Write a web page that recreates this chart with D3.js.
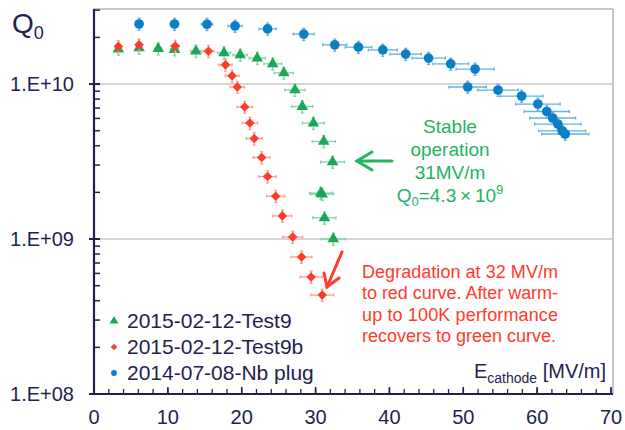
<html>
<head>
  <script src="https://d3js.org/d3.v7.min.js"></script>
  <style>
    body { margin: 0; background: #fff; }
    text { font-family: "Liberation Sans", Arial, sans-serif; }
  </style>
</head>
<body>
  <svg id="chart" width="625" height="430"></svg>
  <script>

    // E_cathode [MV/m] and Q0
    const greenE = [3.3, 6.1, 8.7, 10.9, 13.8, 17.6, 19.8, 22.1, 24.2, 25.7, 27.2, 28.2, 29.7, 31.1, 32.3, 30.7, 30.9, 31.2, 32.4];
    const greenQ = [1.68e10, 1.71e10, 1.69e10, 1.67e10, 1.63e10, 1.59e10, 1.54e10, 1.47e10, 1.35e10, 1.18e10, 9.15e9, 7.16e9, 5.6e9, 4.26e9, 3.14e9, 1.98e9, 1.95e9, 1.37e9, 1.0e9];

    const redE = [3.3, 6.1, 11.0, 15.5, 17.8, 18.7, 19.4, 20.4, 21.1, 21.7, 22.7, 23.5, 24.6, 25.5, 26.9, 28.1, 29.4, 30.9];
    const redQ = [1.75e10, 1.79e10, 1.76e10, 1.63e10, 1.33e10, 1.13e10, 9.57e9, 7.11e9, 5.6e9, 4.45e9, 3.36e9, 2.53e9, 1.89e9, 1.41e9, 1.03e9, 7.66e8, 5.69e8, 4.35e8];

    const blueE = [6.1, 10.9, 15.3, 19.1, 23.5, 28.4, 32.6, 35.8, 39.1, 42.2, 45.3, 48.3, 51.6, 50.6, 54.7, 57.9, 60.1, 61.3, 62.1, 62.8, 63.4, 63.8];
    const blueQ = [2.44e10, 2.44e10, 2.43e10, 2.37e10, 2.27e10, 2.1e10, 1.79e10, 1.73e10, 1.66e10, 1.56e10, 1.47e10, 1.35e10, 1.25e10, 9.57e9, 9.15e9, 8.37e9, 7.43e9, 6.65e9, 6.04e9, 5.52e9, 4.98e9, 4.76e9];

    const seriesNames = ["2015-02-12-Test9", "2015-02-12-Test9b", "2014-07-08-Nb plug"];
    const xTicks = [0, 10, 20, 30, 40, 50, 60, 70];
    const yTicks = [1e8, 1e9, 1e10];
    const yTickLabels = ["1.E+08", "1.E+09", "1.E+10"];

    // relative error bars
    const xErr = 0.05, yErr = 0.09;

    const ink = "#231f4e";
    const green = "#19a85a", red = "#ff3b2b", blue = "#0a7fc6";

    const svg = d3.select("#chart");
    const pLeft = 94, pRight = 611, pTop = 9, pBottom = 394;

    const x = d3.scaleLinear().domain([0, 70]).range([pLeft, pRight]);
    const y = d3.scaleLog().domain([1e8, 3.05e10]).range([pBottom, pTop]);

    // grid lines and frame
    svg.selectAll(".grid").data([1e9, 1e10])
      .join("line")
      .attr("x1", pLeft).attr("x2", pRight + 2)
      .attr("y1", d => y(d)).attr("y2", d => y(d))
      .attr("stroke", "#d6d6d6").attr("stroke-width", 2);

    svg.append("line").attr("x1", pLeft).attr("x2", pRight + 2).attr("y1", pTop).attr("y2", pTop)
      .attr("stroke", "#b4b4bc").attr("stroke-width", 1.5);
    svg.append("line").attr("x1", pRight + 2).attr("x2", pRight + 2).attr("y1", pTop).attr("y2", pBottom)
      .attr("stroke", "#b4b4bc").attr("stroke-width", 1.5);

    // y axis with minor ticks inside
    const yMinor = [];
    for (let e = 8; e <= 10; e++) {
      for (let m = 1; m <= 9; m++) {
        const v = m * Math.pow(10, e);
        if (v <= 3.05e10) yMinor.push(v);
      }
    }
    const yAxis = svg.append("g").attr("transform", "translate(" + pLeft + ",0)");
    yAxis.selectAll(".ymin").data(yMinor)
      .join("line")
      .attr("x1", 0).attr("x2", 6)
      .attr("y1", d => y(d)).attr("y2", d => y(d))
      .attr("stroke", ink).attr("stroke-width", 1.5);
    yAxis.selectAll(".ymaj").data(yTicks)
      .join("line")
      .attr("x1", -5).attr("x2", 6)
      .attr("y1", d => y(d)).attr("y2", d => y(d))
      .attr("stroke", ink).attr("stroke-width", 2);
    yAxis.append("line").attr("y1", pTop).attr("y2", pBottom + 1)
      .attr("stroke", ink).attr("stroke-width", 2.2);
    yAxis.selectAll(".ylab").data(yTicks)
      .join("text")
      .attr("x", -20).attr("y", d => y(d) + 7)
      .attr("text-anchor", "end")
      .attr("font-size", 20).attr("fill", ink)
      .text((d, i) => yTickLabels[i]);

    // x axis with minor ticks every 2
    const xMinor = d3.range(0, 71, 2);
    const xAxis = svg.append("g").attr("transform", "translate(0," + pBottom + ")");
    xAxis.selectAll(".xmin").data(xMinor)
      .join("line")
      .attr("x1", d => x(d)).attr("x2", d => x(d))
      .attr("y1", 0).attr("y2", -5)
      .attr("stroke", ink).attr("stroke-width", 1.3);
    xAxis.selectAll(".xmaj").data(xTicks)
      .join("line")
      .attr("x1", d => x(d)).attr("x2", d => x(d))
      .attr("y1", 0).attr("y2", -7)
      .attr("stroke", ink).attr("stroke-width", 1.6);
    xAxis.append("line").attr("x1", pLeft - 1).attr("x2", pRight + 2)
      .attr("stroke", ink).attr("stroke-width", 2.2);
    xAxis.selectAll(".xlab").data(xTicks)
      .join("text")
      .attr("x", d => x(d)).attr("y", 30)
      .attr("text-anchor", "middle")
      .attr("font-size", 20).attr("fill", ink)
      .text(d => d);

    // axis titles
    const qlab = svg.append("text").attr("x", 12).attr("y", 33).attr("fill", ink).attr("font-size", 28);
    qlab.append("tspan").text("Q");
    qlab.append("tspan").attr("dy", 6).attr("font-size", 18).text("0");

    const elab = svg.append("text").attr("x", 606).attr("y", 378).attr("text-anchor", "end")
      .attr("fill", ink).attr("font-size", 20);
    elab.append("tspan").text("E");
    elab.append("tspan").attr("dy", 5).attr("font-size", 14).text("cathode");
    elab.append("tspan").attr("dy", -5).text(" [MV/m]");

    // series with error bars
    function drawSeries(E, Q, color, barColor, symbol, size, rotate) {
      const pts = E.map((e, i) => ({ e: e, q: Q[i] }));
      const g = svg.append("g");
      const bars = g.append("g").attr("stroke", barColor).attr("stroke-width", 1.3);
      pts.forEach(p => {
        const cx = x(p.e), cy = y(p.q);
        const x0 = x(p.e * (1 - xErr)), x1 = x(p.e * (1 + xErr));
        const y0 = y(p.q * (1 - yErr)), y1 = y(p.q * (1 + yErr));
        bars.append("line").attr("x1", x0).attr("x2", x1).attr("y1", cy).attr("y2", cy);
        bars.append("line").attr("x1", x0).attr("x2", x0).attr("y1", cy - 1.5).attr("y2", cy + 1.5);
        bars.append("line").attr("x1", x1).attr("x2", x1).attr("y1", cy - 1.5).attr("y2", cy + 1.5);
        bars.append("line").attr("x1", cx).attr("x2", cx).attr("y1", y0).attr("y2", y1);
        bars.append("line").attr("x1", cx - 1.5).attr("x2", cx + 1.5).attr("y1", y0).attr("y2", y0);
        bars.append("line").attr("x1", cx - 1.5).attr("x2", cx + 1.5).attr("y1", y1).attr("y2", y1);
      });
      g.selectAll("path").data(pts)
        .join("path")
        .attr("d", d3.symbol(symbol, size))
        .attr("transform", d => "translate(" + x(d.e) + "," + y(d.q) + ") rotate(" + rotate + ")")
        .attr("fill", color);
    }

    drawSeries(greenE, greenQ, green, "#7fd3a4", d3.symbolTriangle, 58, 0);
    drawSeries(redE, redQ, red, "#ff9a90", d3.symbolSquare, 46, 45);
    drawSeries(blueE, blueQ, blue, "#62b2e2", d3.symbolCircle, 74, 0);

    // legend
    const legendColors = [green, red, blue];
    const legendSymbols = [[d3.symbolTriangle, 34, 0], [d3.symbolSquare, 22, 45], [d3.symbolCircle, 26, 0]];
    const legend = svg.append("g");
    seriesNames.forEach((name, i) => {
      const ly = 321 + i * 26;
      legend.append("path")
        .attr("d", d3.symbol(legendSymbols[i][0], legendSymbols[i][1]))
        .attr("transform", "translate(114," + ly + ") rotate(" + legendSymbols[i][2] + ")")
        .attr("fill", legendColors[i]);
      legend.append("text").attr("x", 127).attr("y", ly + 7)
        .attr("font-size", 21).attr("fill", ink).text(name);
    });

    // green annotation
    const gText = "#22b462";
    const gLines = ["Stable", "operation", "31MV/m"];
    gLines.forEach((t, i) => {
      svg.append("text").attr("x", 450).attr("y", 133 + i * 23)
        .attr("text-anchor", "middle").attr("font-size", 19).attr("fill", gText).text(t);
    });
    const qline = svg.append("text").attr("x", 450).attr("y", 202)
      .attr("text-anchor", "middle").attr("font-size", 19).attr("fill", gText);
    qline.append("tspan").text("Q");
    qline.append("tspan").attr("dy", 4).attr("font-size", 13).text("0");
    qline.append("tspan").attr("dy", -4).text("=4.3\u2009\u00d7\u200910");
    qline.append("tspan").attr("dy", -8).attr("font-size", 13).text("9");

    const arrowG = svg.append("g").attr("stroke", gText).attr("stroke-width", 3)
      .attr("fill", "none").attr("stroke-linecap", "round");
    arrowG.append("line").attr("x1", 392).attr("y1", 161).attr("x2", 357).attr("y2", 161);
    arrowG.append("polyline").attr("points", "372,152 357,161 372,170");

    // red annotation
    const rText = "#ff3b2b";
    const rLines = ["Degradation at 32 MV/m", "to red curve. After warm-", "up to 100K performance", "recovers to green curve."];
    rLines.forEach((t, i) => {
      const tx = svg.append("text").attr("x", 362).attr("y", 278 + i * 21.3)
        .attr("font-size", 18).attr("fill", rText).text(t);
      if (i < 3) tx.attr("textLength", 196).attr("lengthAdjust", "spacing");
    });

    const arrowR = svg.append("g").attr("stroke", rText).attr("stroke-width", 3)
      .attr("fill", "none").attr("stroke-linecap", "round");
    arrowR.append("line").attr("x1", 342).attr("y1", 252).attr("x2", 327).attr("y2", 287);
    arrowR.append("polyline").attr("points", "324,273 327,287 339,278");

  </script>
</body>
</html>
